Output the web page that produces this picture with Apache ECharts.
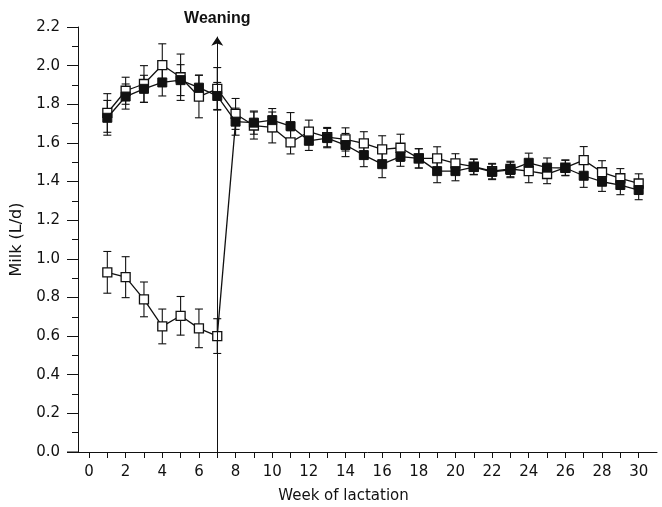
<!DOCTYPE html>
<html>
<head>
<meta charset="utf-8">
<script src="https://cdn.jsdelivr.net/npm/echarts@6/dist/echarts.min.js"></script>
<style>html,body{margin:0;padding:0;background:#fff}#c{width:662px;height:507px}</style>
</head>
<body>
<div id="c"></div>
<script>
const weeks = [1,2,3,4,5,6,7,8,9,10,11,12,13,14,15,16,17,18,19,20,21,22,23,24,25,26,27,28,29,30];
const filledMilk = [1.73,1.84,1.88,1.913,1.925,1.886,1.843,1.71,1.705,1.718,1.687,1.611,1.625,1.589,1.537,1.49,1.529,1.52,1.454,1.454,1.475,1.45,1.46,1.497,1.472,1.47,1.43,1.399,1.382,1.356];
const filledSE = [0.09,0.065,0.07,0.07,0.08,0.065,0.07,0.07,0.06,0.06,0.07,0.05,0.05,0.06,0.06,0.07,0.05,0.05,0.06,0.05,0.04,0.04,0.04,0.05,0.05,0.04,0.06,0.05,0.05,0.05];
const openMilk = [1.755,1.87,1.905,2.003,1.94,1.84,1.88,1.75,1.69,1.68,1.603,1.658,1.63,1.618,1.598,1.567,1.575,1.52,1.52,1.494,1.477,1.454,1.465,1.454,1.439,1.472,1.511,1.448,1.417,1.39];
const openSE = [0.1,0.07,0.095,0.11,0.12,0.11,0.11,0.08,0.07,0.08,0.06,0.06,0.05,0.06,0.06,0.07,0.07,0.05,0.06,0.05,0.04,0.04,0.04,0.06,0.05,0.04,0.07,0.06,0.05,0.05];
const weanedWeeks = [1,2,3,4,5,6,7];
const weanedMilk = [0.93,0.905,0.79,0.65,0.705,0.64,0.60];
const weanedSE = [0.108,0.106,0.09,0.09,0.1,0.1,0.09];
const weaningWeek = 7;
const weaningArrowTop = 2.15;
const xTickLabels = [0,2,4,6,8,10,12,14,16,18,20,22,24,26,28,30];

const FONT = 'DejaVu Sans';

function errData(xs, ys, se){ return xs.map((x,i)=>[x, ys[i]-se[i], ys[i]+se[i]]); }
function pts(xs, ys){ return xs.map((x,i)=>[x, ys[i]]); }

function renderErr(params, api){
  const x = api.value(0), lo = api.value(1), hi = api.value(2);
  const a = api.coord([x, lo]), b = api.coord([x, hi]);
  const w = 4;
  const st = {stroke:'#111', lineWidth:1.1};
  return {type:'group', children:[
    {type:'line', shape:{x1:a[0],y1:a[1],x2:b[0],y2:b[1]}, style:st},
    {type:'line', shape:{x1:a[0]-w,y1:a[1],x2:a[0]+w,y2:a[1]}, style:st},
    {type:'line', shape:{x1:b[0]-w,y1:b[1],x2:b[0]+w,y2:b[1]}, style:st}
  ]};
}

const weanedLine = pts(weanedWeeks, weanedMilk);
weanedLine.push({value:[weanedWeeks[weanedWeeks.length-1]+1, filledMilk[weanedWeeks.length]], symbol:'none'});

const chart = echarts.init(document.getElementById('c'));
chart.setOption({
  animation:false,
  grid:{left:78, right:5, top:27, bottom:55, outerBoundsMode:'none', containLabel:false},
  xAxis:{
    type:'value', min:-0.6, max:31, interval:1,
    name:'Week of lactation', nameLocation:'middle', nameGap:37,
    nameTextStyle:{fontFamily:FONT, fontSize:15, color:'#111', padding:[0,48,0,0]},
    axisLine:{onZero:false, lineStyle:{color:'#111', width:1}},
    axisTick:{show:true, length:6, lineStyle:{color:'#111'}, customValues: [0].concat(weeks)},
    axisLabel:{fontFamily:FONT, fontSize:15, color:'#111', margin:13, customValues:xTickLabels},
    splitLine:{show:false}
  },
  yAxis:{
    type:'value', min:0, max:2.2, interval:0.2,
    name:'Milk (L/d)', nameLocation:'middle', nameGap:46,
    nameTextStyle:{fontFamily:FONT, fontSize:16, color:'#111'},
    axisLine:{show:true, onZero:false, lineStyle:{color:'#111', width:1}},
    axisTick:{show:true, length:11, lineStyle:{color:'#111'}},
    minorTick:{show:true, splitNumber:2, length:6, lineStyle:{color:'#111'}},
    axisLabel:{fontFamily:FONT, fontSize:15, color:'#111', margin:18, formatter:v=>v.toFixed(1)},
    splitLine:{show:false}
  },
  series:[
    {type:'custom', renderItem:renderErr, data:errData(weeks, openMilk, openSE), encode:{x:0,y:[1,2]}, z:1, silent:true},
    {type:'custom', renderItem:renderErr, data:errData(weeks, filledMilk, filledSE), encode:{x:0,y:[1,2]}, z:1, silent:true},
    {type:'custom', renderItem:renderErr, data:errData(weanedWeeks, weanedMilk, weanedSE), encode:{x:0,y:[1,2]}, z:1, silent:true},
    {type:'line', data:pts(weeks, openMilk), symbol:'rect', symbolSize:9, z:3,
      lineStyle:{color:'#111', width:1.3}, itemStyle:{color:'#fff', borderColor:'#111', borderWidth:1.3}},
    {type:'line', data:weanedLine, symbol:'rect', symbolSize:9, z:3,
      lineStyle:{color:'#111', width:1.3}, itemStyle:{color:'#fff', borderColor:'#111', borderWidth:1.3},
      markLine:{silent:true, symbol:['none','arrow'], symbolSize:9,
        lineStyle:{color:'#111', width:1, type:'solid'},
        label:{show:true, position:'end', formatter:'Weaning', fontFamily:'Liberation Sans', fontWeight:'bold', fontSize:16, color:'#111', distance:10},
        data:[[{coord:[weaningWeek,0]},{coord:[weaningWeek,weaningArrowTop]}]]}},
    {type:'line', data:pts(weeks, filledMilk), symbol:'rect', symbolSize:9, z:4,
      lineStyle:{color:'#111', width:1.3}, itemStyle:{color:'#111', borderColor:'#111', borderWidth:1}}
  ]
});
// extend the x-axis line slightly to the left of the y-axis, as in the original
const pA = chart.convertToPixel({gridIndex:0}, [-1.2, 0]);
const pB = chart.convertToPixel({gridIndex:0}, [-0.6, 0]);
chart.setOption({graphic:[{type:'line', shape:{x1:pA[0], y1:pA[1], x2:pB[0], y2:pB[1]}, style:{stroke:'#111', lineWidth:1}, silent:true}]});
</script>
</body>
</html>
